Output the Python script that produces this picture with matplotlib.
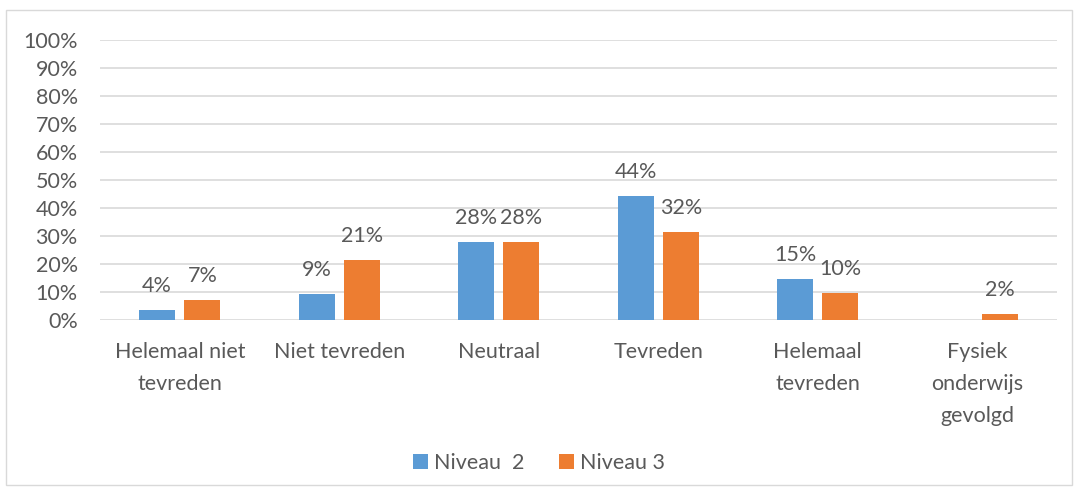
import matplotlib.pyplot as plt
import numpy as np
from matplotlib.patches import Rectangle

plt.rcParams['font.family'] = ['Lato', 'DejaVu Sans']

categories = ["Helemaal niet\ntevreden", "Niet tevreden", "Neutraal", "Tevreden",
              "Helemaal\ntevreden", "Fysiek\nonderwijs\ngevolgd"]
niveau2 = [0.036, 0.094, 0.278, 0.444, 0.148, 0.0]
niveau3 = [0.071, 0.213, 0.278, 0.316, 0.098, 0.021]
niveau2_labels = ["4%", "9%", "28%", "44%", "15%", ""]
niveau3_labels = ["7%", "21%", "28%", "32%", "10%", "2%"]
yticks = [0, 0.1, 0.2, 0.3, 0.4, 0.5, 0.6, 0.7, 0.8, 0.9, 1.0]
ytick_labels = ["0%", "10%", "20%", "30%", "40%", "50%", "60%", "70%", "80%", "90%", "100%"]

blue = "#5b9bd5"
orange = "#ed7d31"
grey = "#595959"
fs = 15.5

fig = plt.figure(figsize=(10.78, 4.92), dpi=100)
ax = fig.add_axes([0.0928, 0.3496, 0.8877, 0.5691])

x = np.arange(len(categories))
w = 0.226
off = 0.142
b2 = ax.bar(x - off, niveau2, w, color=blue, label="Niveau  2")
b3 = ax.bar(x + off, niveau3, w, color=orange, label="Niveau 3")

for bars, labs in ((b2, niveau2_labels), (b3, niveau3_labels)):
    for rect, lab in zip(bars, labs):
        if lab:
            ax.annotate(lab, (rect.get_x() + rect.get_width() / 2, rect.get_height()),
                        xytext=(0, 10), textcoords='offset points',
                        ha='center', va='bottom', fontsize=fs, color=grey)

ax.set_xlim(-0.5, len(categories) - 0.5)
ax.set_ylim(0, 1.0)
ax.set_yticks(yticks)
ax.set_yticklabels(ytick_labels)
ax.set_xticks(x)
ax.set_xticklabels(categories, linespacing=1.75)
ax.tick_params(axis='both', length=0, labelsize=fs, labelcolor=grey)
ax.tick_params(axis='x', pad=16)
ax.tick_params(axis='y', pad=16)
ax.grid(axis='y', color='#d9d9d9', linewidth=1.2)
ax.set_axisbelow(True)
for s in ax.spines.values():
    s.set_visible(False)

fig.legend(handles=[b2, b3], loc='center', bbox_to_anchor=(0.5, 0.058), ncol=2,
           frameon=False, fontsize=fs, labelcolor=grey, handlelength=0.7,
           handleheight=0.7, handletextpad=0.3, columnspacing=1.6)

fig.patches.append(Rectangle((6 / 1078, 1 - 485 / 492), 1066 / 1078, 475 / 492,
                             transform=fig.transFigure, fill=False,
                             edgecolor='#d9d9d9', linewidth=1))

plt.savefig("out.png", dpi=100)
